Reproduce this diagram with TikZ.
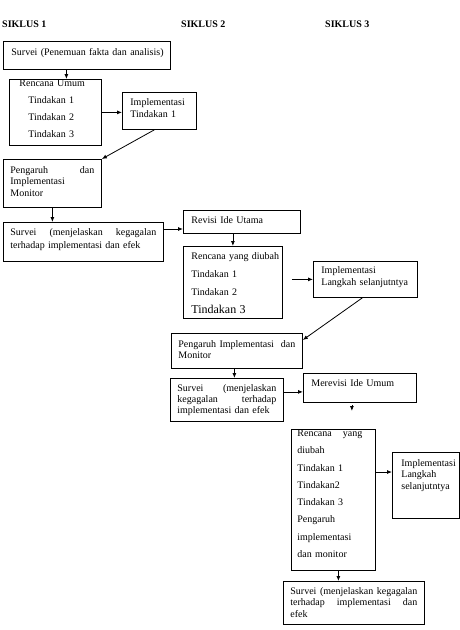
\documentclass[tikz,border=0pt]{standalone}
\usepackage{fontspec}
\setmainfont{Liberation Serif}
\usetikzlibrary{arrows.meta}
\newcommand\sela{\hspace{0pt plus 1filll}}
\tikzset{
    kotak/.style={draw, line width=0.8pt, anchor=north west, inner ysep=0pt, inner xsep=7pt, align=left},
    panah/.style={-{Latex[length=5pt,width=4pt]}, line width=0.8pt},
    judul/.style={anchor=base west, inner sep=0pt, font=\fontsize{10}{12}\selectfont\bfseries}
}

\begin{document}
\begin{tikzpicture}[x=1pt, y=-1pt, font=\fontsize{10}{12}\selectfont]
    \useasboundingbox (0,0) rectangle (460,630);
    % judul siklus
    \node[judul] (s1) at (2,27.5) {SIKLUS 1};
    \node[judul] (s2) at (181,27.5) {SIKLUS 2};
    \node[judul] (s3) at (325,27.5) {SIKLUS 3};
    % siklus 1
    \node[kotak, inner xsep=8pt, text width=151pt, text height=14.5pt, text depth=13.5pt] (surv1) at (3,41) {\mbox{Survei (Penemuan fakta dan analisis)}};
    \node[kotak, inner xsep=10pt, text width=72pt, text height=7pt, text depth=59pt, font=\fontsize{10}{17}\selectfont] (renc1) at (9,79) {Rencana Umum\\ \hspace*{9pt}Tindakan 1\\ \hspace*{9pt}Tindakan 2\\ \hspace*{9pt}Tindakan 3};
    \node[kotak, inner xsep=8pt, text width=58pt, text height=13pt, text depth=24pt] (impl1) at (122,92) {Implementasi\\Tindakan 1};
    \node[kotak, text width=84pt, text height=14pt, text depth=34pt, font=\fontsize{10}{11.5}\selectfont] (peng1) at (3,159) {Pengaruh \sela dan\\Implementasi\\Monitor};
    \node[kotak, text width=146pt, text height=13pt, text depth=26pt, font=\fontsize{10}{13}\selectfont] (surv2) at (3,222) {Survei \sela (menjelaskan \sela kegagalan\\terhadap implementasi dan efek};
    % siklus 2
    \node[kotak, inner xsep=8pt, text width=101pt, text height=13.5pt, text depth=9.5pt] (rev) at (183,210) {Revisi Ide Utama};
    \node[kotak, inner xsep=8pt, text width=83pt, text height=13pt, text depth=59pt, font=\fontsize{10}{18}\selectfont] (renc2) at (183,246) {\mbox{Rencana yang diubah}\\Tindakan 1\\Tindakan 2\\{\fontsize{12}{18}\selectfont Tindakan 3}};
    \node[kotak, inner xsep=8pt, text width=88pt, text height=12pt, text depth=24pt] (impl2) at (313,261) {Implementasi\\Langkah selanjutntya};
    \node[kotak, text width=117pt, text height=14pt, text depth=21pt, font=\fontsize{10}{11.5}\selectfont] (peng2) at (171,333) {Pengaruh Implementasi \sela dan\\Monitor};
    \node[kotak, text width=99pt, text height=13pt, text depth=30pt, font=\fontsize{10}{11}\selectfont] (surv3) at (170,378) {Survei \sela (menjelaskan\\kegagalan \sela terhadap\\implementasi dan efek};
    % siklus 3
    \node[kotak, inner xsep=8pt, text width=97pt, text height=13.5pt, text depth=15.5pt] (merev) at (303,373) {Merevisi Ide Umum};
    \node[kotak, inner xsep=6pt, text width=72pt, text height=7pt, text depth=134pt, font=\fontsize{10}{17.3}\selectfont] (renc3) at (291,429) {\makebox[65pt][l]{Rencana\hfill yang}\\diubah\\Tindakan 1\\Tindakan2\\Tindakan 3\\Pengaruh\\implementasi\\dan monitor};
    \node[kotak, inner xsep=9pt, text width=49pt, text height=14pt, text depth=52pt, font=\fontsize{10}{11.5}\selectfont] (impl3) at (392,452) {\mbox{Implementasi}\\Langkah\\selanjutntya};
    \node[kotak, text width=127pt, text height=13pt, text depth=30pt, font=\fontsize{10}{11.5}\selectfont] (surv4) at (283,581) {Survei \sela (menjelaskan \sela kegagalan\\terhadap \sela implementasi \sela dan\\efek};
    % panah
    \draw[panah] ([xshift=11pt]renc1.north |- surv1.south) -- ([xshift=11pt]renc1.north);
    \draw[panah] (renc1.east) -- (renc1.east -| impl1.west);
    \draw[panah] ([xshift=-5pt]impl1.south) -- (peng1.north east);
    \draw[panah] (peng1.south) -- (peng1.south |- surv2.north);
    \draw[panah] ([yshift=-7pt]surv2.north east) -- ([yshift=-7pt]surv2.north east -| rev.west);
    \draw[panah] (renc2.north |- rev.south) -- (renc2.north);
    \draw[panah] ([xshift=9pt]renc2.east |- impl2.west) -- (impl2.west);
    \draw[panah] ([xshift=-3pt]impl2.south) -- ([yshift=-7pt]peng2.north east);
    \draw[panah] ([xshift=-2.5pt]peng2.south) -- ([xshift=-2.5pt]peng2.south |- surv3.north);
    \draw[panah] ([yshift=-4pt]merev.west -| surv3.east) -- ([yshift=-4pt]merev.west);
    \draw[panah, shorten <=2pt, shorten >=18pt] ([xshift=-8pt]merev.south) -- ([xshift=-8pt]merev.south |- renc3.north);
    \draw[panah] ([yshift=-20pt]impl3.north west -| renc3.east) -- ([yshift=-20pt]impl3.north west);
    \draw[panah] ([xshift=5pt]renc3.south) -- ([xshift=5pt]renc3.south |- surv4.north);
\end{tikzpicture}
\end{document}
